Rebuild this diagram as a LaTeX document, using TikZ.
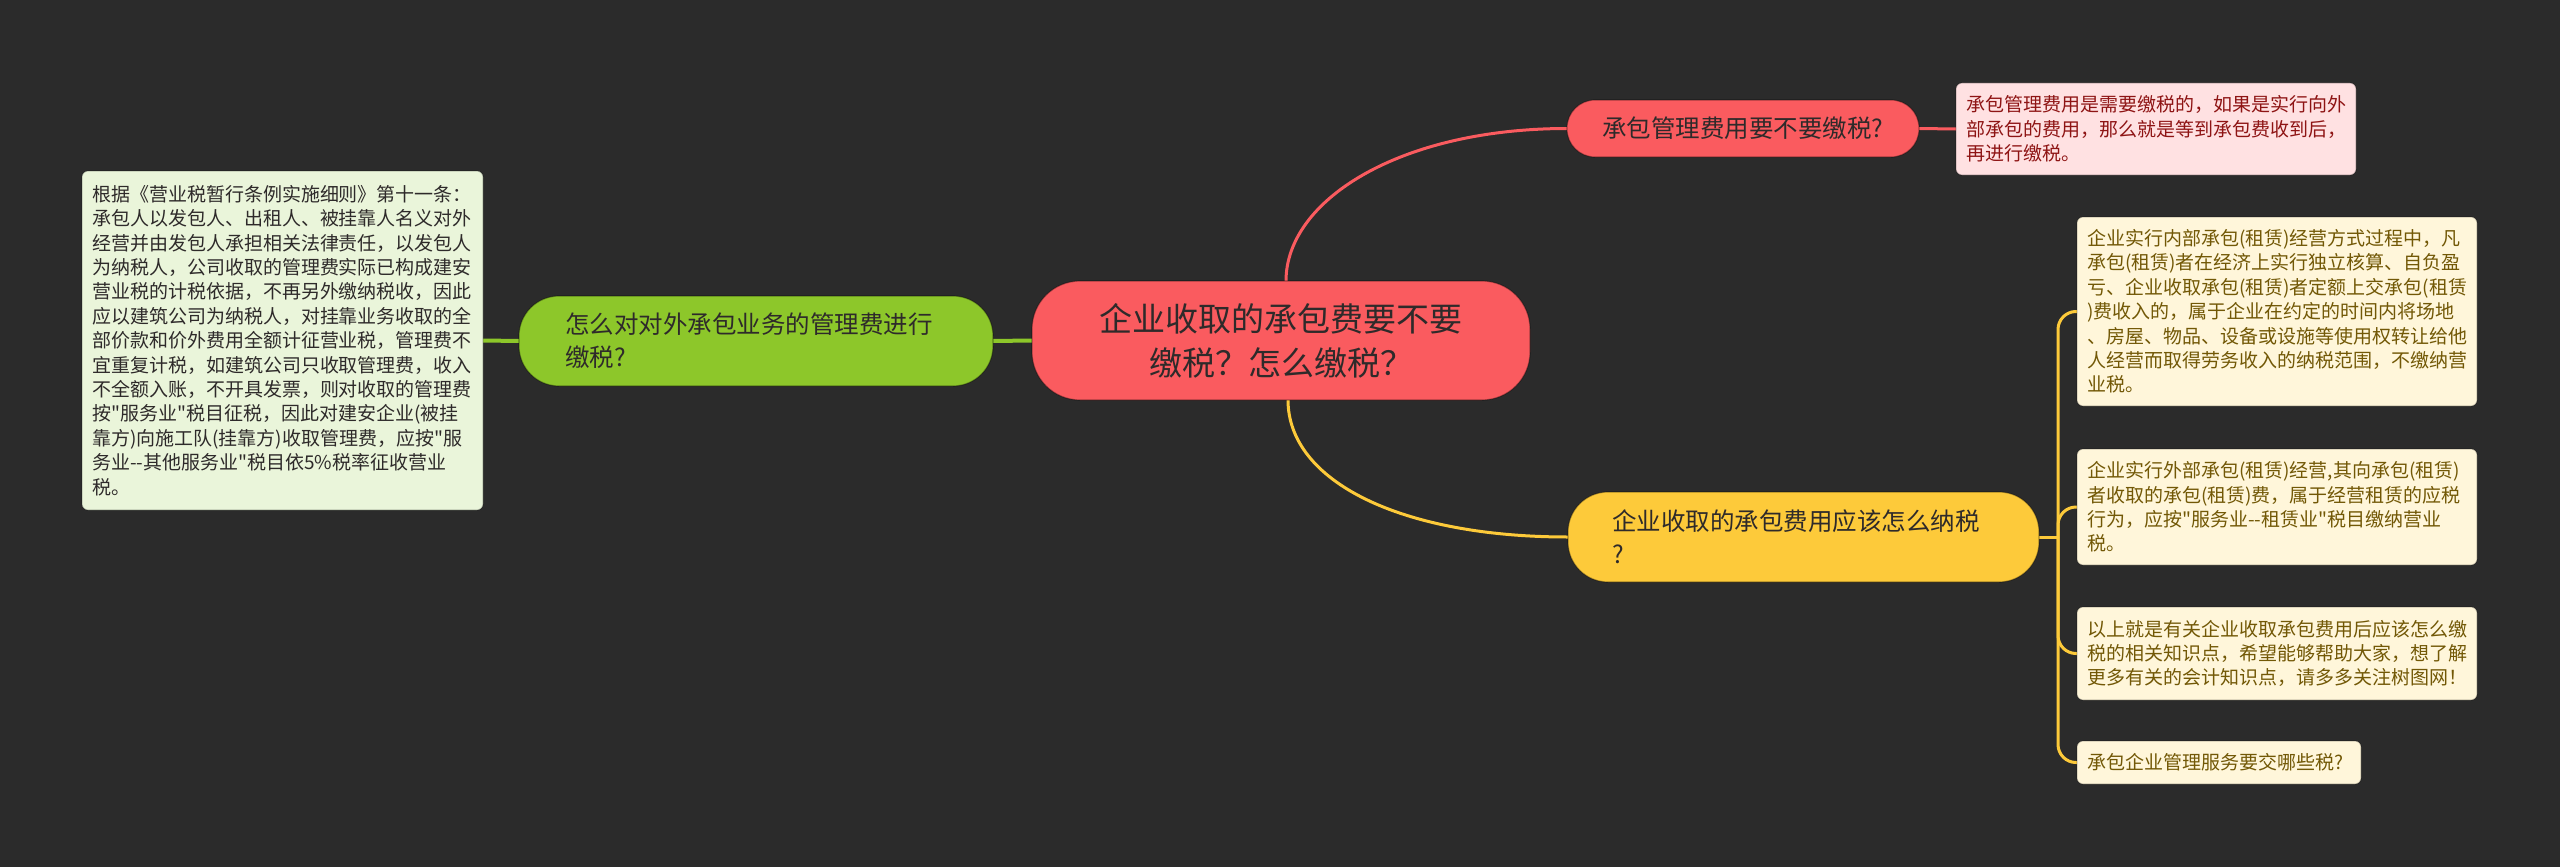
\documentclass[tikz,border=0pt]{standalone}
\usepackage{fontspec}
\setmainfont{Noto Sans CJK SC}[Ligatures=TeXOff]
\pgfdeclarelayer{bgl}
\pgfdeclarelayer{edges}
\pgfsetlayers{bgl,edges,main}
\definecolor{bgc}{HTML}{2B2B2B}
\definecolor{cred}{HTML}{FA5B5F}
\definecolor{cgreen}{HTML}{8DC72A}
\definecolor{cyellow}{HTML}{FDCA3A}
\definecolor{lgreen}{HTML}{EAF5DA}
\definecolor{lpink}{HTML}{FFE1E2}
\definecolor{lcream}{HTML}{FFF6DA}
\definecolor{darktext}{HTML}{2E2A2A}
\definecolor{redtext}{HTML}{8E1414}
\definecolor{browntext}{HTML}{725806}
\tikzset{
  nodebase/.style={inner ysep=0pt, outer sep=0pt, draw=black, draw opacity=0.35, line width=1.2pt},
  centralnode/.style={nodebase, fill=cred, rounded corners=48pt, minimum width=498pt, minimum height=119pt,
     align=center, text=darktext, font=\fontsize{33}{44}\selectfont, inner xsep=10pt},
  subpill/.style={nodebase, rounded corners=40pt, align=left, text=darktext, font=\fontsize{24.5}{33}\selectfont},
  notebox/.style={nodebase, draw opacity=0.2, rounded corners=6pt, align=left, inner xsep=10pt,
     font=\fontsize{19}{24.4}\selectfont},
  redline/.style={draw=cred, line width=3pt},
  greenline/.style={draw=cgreen, line width=4pt},
  yellowline/.style={draw=cyellow, line width=3pt}
}
\begin{document}
\begin{tikzpicture}[x=1pt,y=-1pt]
\begin{pgfonlayer}{bgl}
\fill[bgc] (0,0) rectangle (2560,867);
\end{pgfonlayer}
\useasboundingbox (0,0) rectangle (2560,867);

% central
\node[centralnode] (c) at (1281,340.5) {企业收取的承包费要不要\\缴税？怎么缴税？};

% left branch
\node[subpill, fill=cgreen, text width=382pt, inner xsep=46pt, minimum height=90pt] (g) at (756,341)
  {怎么对对外承包业务的管理费进行\\缴税?};
\node[notebox, fill=lgreen, text=darktext, text width=381pt, minimum height=339pt] (lb) at (282.5,340.5)
  {根据《营业税暂行条例实施细则》第十一条：\\
承包人以发包人、出租人、被挂靠人名义对外\\
经营并由发包人承担相关法律责任，以发包人\\
为纳税人，公司收取的管理费实际已构成建安\\
营业税的计税依据，不再另外缴纳税收，因此\\
应以建筑公司为纳税人，对挂靠业务收取的全\\
部价款和价外费用全额计征营业税，管理费不\\
宜重复计税，如建筑公司只收取管理费，收入\\
不全额入账，不开具发票，则对收取的管理费\\
按"服务业"税目征税，因此对建安企业(被挂\\
靠方)向施工队(挂靠方)收取管理费，应按"服\\
务业-{}-其他服务业"税目依5\%税率征收营业\\
税。};

% top right branch
\node[subpill, fill=cred, rounded corners=28pt, align=center, minimum width=352pt, minimum height=57pt, inner xsep=10pt] (r) at (1743,128.5)
  {承包管理费用要不要缴税?};
\node[notebox, fill=lpink, text=redtext, text width=380pt, minimum height=92pt] (p) at (2156,129)
  {承包管理费用是需要缴税的，如果是实行向外\\
部承包的费用，那么就是等到承包费收到后，\\
再进行缴税。};

% bottom right branch
\node[subpill, fill=cyellow, text width=383pt, inner xsep=44pt, minimum height=90pt] (y) at (1803.5,537)
  {企业收取的承包费用应该怎么纳税\\?};
\node[notebox, fill=lcream, text=browntext, text width=380pt, minimum height=189pt] (b1) at (2277,311.5)
  {企业实行内部承包(租赁)经营方式过程中，凡\\
承包(租赁)者在经济上实行独立核算、自负盈\\
亏、企业收取承包(租赁)者定额上交承包(租赁\\
)费收入的，属于企业在约定的时间内将场地\\
、房屋、物品、设备或设施等使用权转让给他\\
人经营而取得劳务收入的纳税范围，不缴纳营\\
业税。};
\node[notebox, fill=lcream, text=browntext, text width=380pt, minimum height=116pt] (b2) at (2277,507)
  {企业实行外部承包(租赁)经营,其向承包(租赁)\\
者收取的承包(租赁)费，属于经营租赁的应税\\
行为，应按"服务业-{}-租赁业"税目缴纳营业\\
税。};
\node[notebox, fill=lcream, text=browntext, text width=380pt, minimum height=93pt] (b3) at (2277,653.5)
  {以上就是有关企业收取承包费用后应该怎么缴\\
税的相关知识点，希望能够帮助大家，想了解\\
更多有关的会计知识点，请多多关注树图网！};
\node[notebox, fill=lcream, text=browntext, text width=264pt, minimum height=43pt] (b4) at (2219,762.5)
  {承包企业管理服务要交哪些税?};

\coordinate (T) at (2058,537);

\begin{pgfonlayer}{edges}
\draw[redline] ([xshift=5pt]c.north) .. controls (1286,200) and (1400,128.5) .. (r.west);
\draw[redline] (r.east) -- (p.west);
\draw[yellowline] ([xshift=7pt]c.south) .. controls (1288,481) and (1400,537) .. (y.west);
\draw[greenline] (g.east) -- (c.west);
\draw[greenline] (lb.east) -- (g.west);
\draw[yellowline] (y.east) -- (T);
\draw[yellowline, rounded corners=18pt] (T) -- (T |- b1.west) -- (b1.west);
\draw[yellowline, rounded corners=18pt] (T) -- (T |- b2.west) -- (b2.west);
\draw[yellowline, rounded corners=18pt] (T) -- (T |- b3.west) -- (b3.west);
\draw[yellowline, rounded corners=18pt] (T) -- (T |- b4.west) -- (b4.west);
\end{pgfonlayer}
\end{tikzpicture}
\end{document}
